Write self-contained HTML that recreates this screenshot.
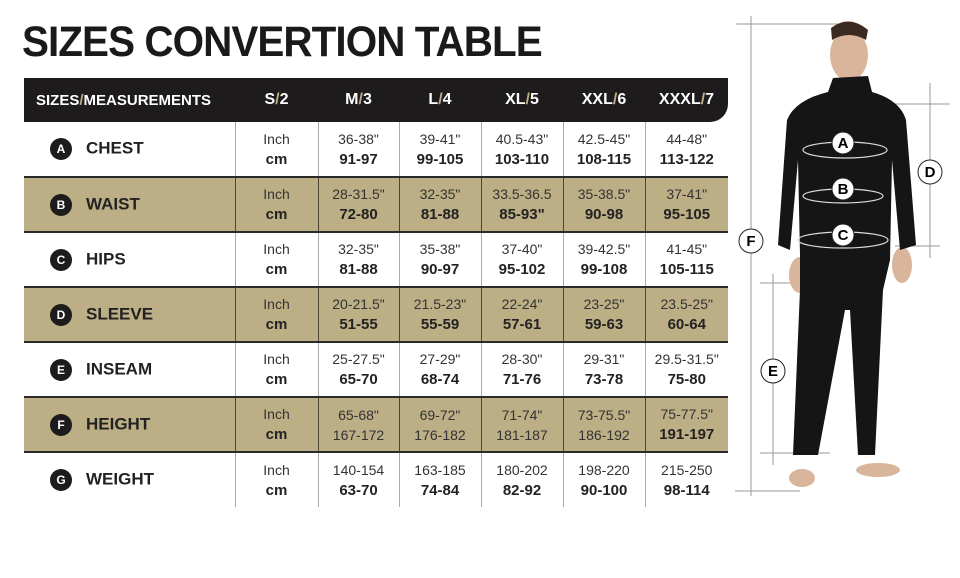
<!DOCTYPE html>
<html><head><style>
*{margin:0;padding:0;box-sizing:border-box}
body{width:960px;height:578px;background:#fff;position:relative;overflow:hidden;font-family:"Liberation Sans",sans-serif;color:#222}
h1{position:absolute;left:22px;top:18px;font-size:43px;font-weight:900;letter-spacing:-1px;color:#1a1a1a;transform:scaleX(0.94);transform-origin:left}
table{position:absolute;left:24px;top:78px;border-collapse:collapse;table-layout:fixed}
th{background:#1d1b1b;color:#fff;height:44px;font-size:16px;font-weight:bold;text-align:center}
th span{color:#bcae85}
td{height:55px;text-align:center;border-left:1.5px solid #aaa;font-size:14px;line-height:20px;color:#333}
td b{font-size:15px;color:#222}
td.l{border-left:none;text-align:left;padding-left:26px;font-weight:bold;font-size:17px;color:#222}
.c{display:inline-block;width:22px;height:22px;border-radius:50%;background:#1d1b1b;color:#fff;font-size:12px;text-align:center;line-height:22px;margin-right:14px;vertical-align:middle}
tr.t td{background:#bcae85;border-left-color:#4a4535}
tr.t{border-top:2px solid #2a2a2a;border-bottom:2px solid #2a2a2a}
</style></head><body>
<h1>SIZES CONVERTION TABLE</h1>
<table>
<colgroup><col style="width:211px"><col style="width:83px"><col style="width:81px"><col style="width:82px"><col style="width:82px"><col style="width:82px"><col style="width:83px"></colgroup>
<tr><th style="text-align:left;padding-left:12px;font-size:15px">SIZES<span>/</span>MEASUREMENTS</th><th>S<span>/</span>2</th><th>M<span>/</span>3</th><th>L<span>/</span>4</th><th>XL<span>/</span>5</th><th>XXL<span>/</span>6</th><th style="border-radius:0 0 18px 0">XXXL<span>/</span>7</th></tr>
<tr><td class="l"><span class="c">A</span>CHEST</td><td>Inch<br><b>cm</b></td><td>36-38"<br><b>91-97</b></td><td>39-41"<br><b>99-105</b></td><td>40.5-43"<br><b>103-110</b></td><td>42.5-45"<br><b>108-115</b></td><td>44-48"<br><b>113-122</b></td></tr>
<tr class="t"><td class="l"><span class="c">B</span>WAIST</td><td>Inch<br><b>cm</b></td><td>28-31.5"<br><b>72-80</b></td><td>32-35"<br><b>81-88</b></td><td>33.5-36.5<br><b>85-93"</b></td><td>35-38.5"<br><b>90-98</b></td><td>37-41"<br><b>95-105</b></td></tr>
<tr><td class="l"><span class="c">C</span>HIPS</td><td>Inch<br><b>cm</b></td><td>32-35"<br><b>81-88</b></td><td>35-38"<br><b>90-97</b></td><td>37-40"<br><b>95-102</b></td><td>39-42.5"<br><b>99-108</b></td><td>41-45"<br><b>105-115</b></td></tr>
<tr class="t"><td class="l"><span class="c">D</span>SLEEVE</td><td>Inch<br><b>cm</b></td><td>20-21.5"<br><b>51-55</b></td><td>21.5-23"<br><b>55-59</b></td><td>22-24"<br><b>57-61</b></td><td>23-25"<br><b>59-63</b></td><td>23.5-25"<br><b>60-64</b></td></tr>
<tr><td class="l"><span class="c">E</span>INSEAM</td><td>Inch<br><b>cm</b></td><td>25-27.5"<br><b>65-70</b></td><td>27-29"<br><b>68-74</b></td><td>28-30"<br><b>71-76</b></td><td>29-31"<br><b>73-78</b></td><td>29.5-31.5"<br><b>75-80</b></td></tr>
<tr class="t"><td class="l"><span class="c">F</span>HEIGHT</td><td>Inch<br><b>cm</b></td><td>65-68"<br>167-172</td><td>69-72"<br>176-182</td><td>71-74"<br>181-187</td><td>73-75.5"<br>186-192</td><td>75-77.5"<br><b>191-197</b></td></tr>
<tr><td class="l"><span class="c">G</span>WEIGHT</td><td>Inch<br><b>cm</b></td><td>140-154<br><b>63-70</b></td><td>163-185<br><b>74-84</b></td><td>180-202<br><b>82-92</b></td><td>198-220<br><b>90-100</b></td><td>215-250<br><b>98-114</b></td></tr>
</table>
<svg style="position:absolute;left:0;top:0" width="960" height="578">
<g stroke="#999" stroke-width="1">
<line x1="736" y1="24" x2="845" y2="24"/><line x1="751" y1="16" x2="751" y2="496"/><line x1="735" y1="491" x2="800" y2="491"/>
<line x1="930" y1="83" x2="930" y2="258"/><line x1="895" y1="104" x2="950" y2="104"/><line x1="895" y1="246" x2="940" y2="246"/>
<line x1="773" y1="274" x2="773" y2="465"/><line x1="760" y1="283" x2="850" y2="283"/><line x1="760" y1="453" x2="830" y2="453"/>
</g>
<g fill="#d9b69b">
<ellipse cx="849" cy="55" rx="19" ry="26"/>
<ellipse cx="800" cy="275" rx="11" ry="18"/><ellipse cx="902" cy="265" rx="10" ry="18"/>
<ellipse cx="802" cy="478" rx="13" ry="9"/><ellipse cx="878" cy="470" rx="22" ry="7"/>
</g>
<path d="M831 28 Q849 14 868 30 L866 40 Q849 30 832 40Z" fill="#3a2a20"/>
<path d="M833 78 L868 76 L872 92 Q900 100 906 120 L916 245 L900 250 L892 160 L890 260 L883 290 L875 455 L858 455 L850 310 L845 310 L818 455 L793 455 L800 290 L800 255 L798 160 L790 250 L778 245 L787 120 Q795 100 828 92Z" fill="#151515"/>
<g fill="none" stroke="#ddd" stroke-width="1.2"><ellipse cx="845" cy="150" rx="42" ry="8"/><ellipse cx="843" cy="196" rx="40" ry="7"/><ellipse cx="843" cy="240" rx="45" ry="8"/></g>
<g font-family="Liberation Sans" font-weight="bold" font-size="15" text-anchor="middle">
<g fill="#fff" stroke="#222"><circle cx="843" cy="143" r="11"/><circle cx="843" cy="189" r="11"/><circle cx="843" cy="235" r="11"/><circle cx="930" cy="172" r="12"/><circle cx="751" cy="241" r="12"/><circle cx="773" cy="371" r="12"/></g>
<text x="843" y="148">A</text><text x="843" y="194">B</text><text x="843" y="240">C</text><text x="930" y="177">D</text><text x="751" y="246">F</text><text x="773" y="376">E</text>
</g>
</svg>
</body></html>
